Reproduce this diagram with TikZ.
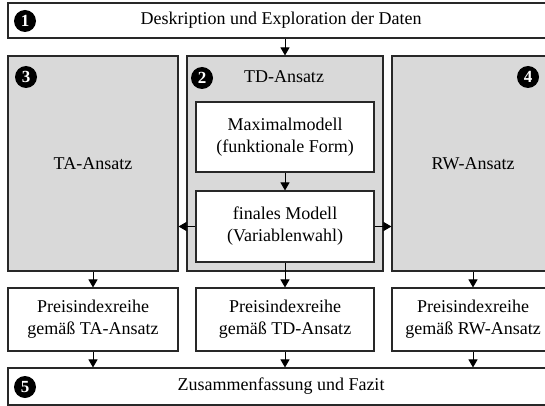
\documentclass[tikz,border=0pt]{standalone}
\usepackage{fontspec}
\setmainfont{Liberation Serif}
\usetikzlibrary{arrows.meta}
\definecolor{boxgray}{RGB}{217,217,217}
\definecolor{edge}{RGB}{40,40,40}
\begin{document}
\begin{tikzpicture}[x=1pt,y=-1pt,
  every node/.style={font=\fontsize{18}{22}\selectfont, inner sep=0pt, align=center},
  whitebox/.style={draw=edge, line width=1.1pt, fill=white, anchor=center},
  graybox/.style={draw=edge, line width=1.1pt, fill=boxgray, anchor=center},
  numcirc/.style={circle, fill=black, minimum size=22pt, text=white, font=\fontsize{17}{17}\selectfont\bfseries},
  conn/.style={draw=black, line width=1pt, -{Triangle[length=8pt,width=9pt]}}
]
\useasboundingbox (0,0) rectangle (545,406);
% main boxes
\node[whitebox, minimum width=546pt, minimum height=35pt] (top) at (281,20.5) {Deskription und Exploration der Daten};
\node[graybox, minimum width=170pt, minimum height=215pt] (ta) at (93,163.5) {TA-Ansatz};
\node[graybox, minimum width=196pt, minimum height=215pt] (td) at (285,163.5) {};
\node[graybox, minimum width=162pt, minimum height=215pt] (rw) at (473,163.5) {RW-Ansatz};
\node (tdlabel) at (284,77) {TD-Ansatz};
\node[whitebox, minimum width=178pt, minimum height=70pt] (max) at (285,137) {Maximalmodell\\(funktionale Form)};
\node[whitebox, minimum width=178pt, minimum height=71pt] (fin) at (285,226.5) {finales Modell\\(Variablenwahl)};
\node[whitebox, minimum width=170pt, minimum height=63pt] (pta) at (93,319.5) {Preisindexreihe\\gemäß TA-Ansatz};
\node[whitebox, minimum width=178pt, minimum height=63pt] (ptd) at (285,319.5) {Preisindexreihe\\gemäß TD-Ansatz};
\node[whitebox, minimum width=162pt, minimum height=63pt] (prw) at (473,319.5) {Preisindexreihe\\gemäß RW-Ansatz};
\node[whitebox, minimum width=546pt, minimum height=37pt] (bot) at (281,386.5) {Zusammenfassung und Fazit};
% number circles
\node[numcirc] (n1) at (25,21) {1};
\node[numcirc] (n3) at (26,77) {3};
\node[numcirc] (n2) at (202,78) {2};
\node[numcirc] (n4) at (528,77) {4};
\node[numcirc] (n5) at (25,387) {5};
% connectors
\draw[conn] (top.south -| td.north) -- (td.north);
\draw[conn] (max.south) -- (fin.north);
\draw[conn] (fin.west) -- (fin.west -| ta.east);
\draw[conn] (fin.east) -- (fin.east -| rw.west);
\draw[conn] (ta.south) -- (pta.north);
\draw[conn] (fin.south) -- (ptd.north);
\draw[conn] (rw.south) -- (prw.north);
\draw[conn] (pta.south) -- (pta.south |- bot.north);
\draw[conn] (ptd.south) -- (ptd.south |- bot.north);
\draw[conn] (prw.south) -- (prw.south |- bot.north);
\end{tikzpicture}
\end{document}
